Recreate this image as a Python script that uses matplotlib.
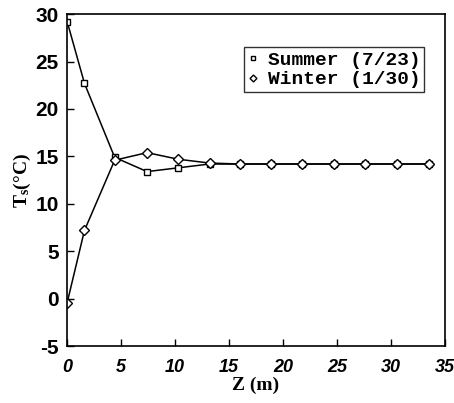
import numpy as np
import matplotlib.pyplot as plt

plt.rcParams['axes.unicode_minus'] = False
plt.rcParams['mathtext.fontset'] = 'custom'
plt.rcParams['mathtext.rm'] = 'Liberation Serif:bold'
plt.rcParams['mathtext.it'] = 'Liberation Serif:bold'

# depth (m) and soil temperature (C)
z = [0, 1.6, 4.4, 7.4, 10.3, 13.2, 16.0, 18.9, 21.8, 24.7, 27.6, 30.6, 33.5]
summer = [29.2, 22.7, 14.9, 13.4, 13.8, 14.2, 14.2, 14.2, 14.2, 14.2, 14.2, 14.2, 14.2]
winter = [-0.4, 7.2, 14.6, 15.4, 14.7, 14.3, 14.2, 14.2, 14.2, 14.2, 14.2, 14.2, 14.2]
labels = ['Summer (7/23)', 'Winter (1/30)']

fig = plt.figure(figsize=(4.54, 4.03), dpi=100)
ax = fig.add_axes([0.148, 0.141, 0.832, 0.824])

ax.plot(z, summer, color='black', lw=1.1, marker='s', ms=5,
        mfc='white', mec='black', mew=1.0, label=labels[0])
ax.plot(z, winter, color='black', lw=1.1, marker='D', ms=5,
        mfc='white', mec='black', mew=1.0, label=labels[1])

ax.set_xlim(0, 35)
ax.set_ylim(-5, 30)
ax.set_xticks(np.arange(0, 36, 5))
ax.set_yticks(np.arange(-5, 31, 5))
ax.tick_params(direction='in', length=5, width=1.0)
ax.tick_params(axis='x', pad=9)
ax.tick_params(axis='y', pad=6)
for s in ax.spines.values():
    s.set_linewidth(1.2)

for t in ax.get_xticklabels():
    t.set_fontfamily('Liberation Sans')
    t.set_fontweight('bold')
    t.set_fontstyle('italic')
    t.set_fontsize(13)
for t in ax.get_yticklabels():
    t.set_fontfamily('Liberation Sans')
    t.set_fontweight('bold')
    t.set_fontsize(15)

ax.set_xlabel('Z (m)', fontfamily='Liberation Serif', fontweight='bold',
              fontsize=14, labelpad=1)
ax.set_ylabel('T$_{s}$(\u00b0C)', fontfamily='Liberation Serif',
              fontweight='bold', fontsize=14, labelpad=2)

leg = ax.legend(loc='upper right', bbox_to_anchor=(0.945, 0.9),
                prop={'family': 'Liberation Mono', 'weight': 'bold', 'size': 14},
                frameon=True, fancybox=False, edgecolor='black',
                handlelength=0.5, handletextpad=0.5, borderpad=0.2,
                labelspacing=0.1, markerscale=0.7, borderaxespad=0)
leg.get_frame().set_linewidth(1.0)
for h in leg.legend_handles:
    h.set_linestyle('none')

fig.savefig('out.png', dpi=100)
